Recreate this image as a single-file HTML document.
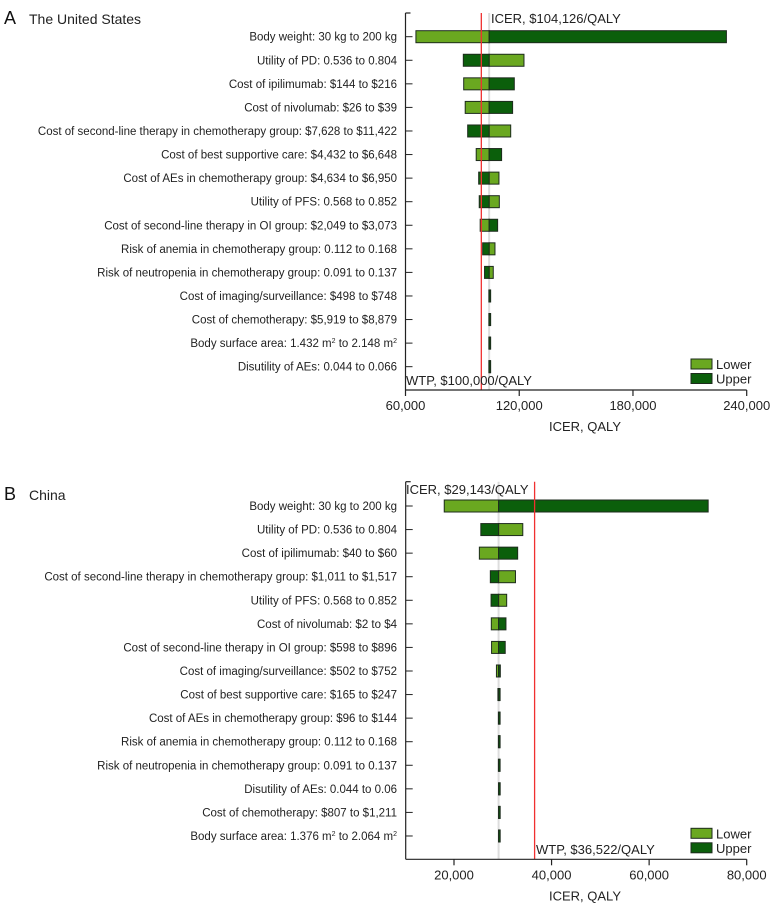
<!DOCTYPE html>
<html><head><meta charset="utf-8"><style>
html,body{margin:0;padding:0;background:#fff;}
svg{display:block;font-family:"Liberation Sans",Arial,sans-serif;}
</style></head><body>
<svg id="chart" width="776" height="911" viewBox="0 0 776 911" xmlns="http://www.w3.org/2000/svg"></svg>
<script>
// Panel A data (The United States)
const labelsA = ["Body weight: 30 kg to 200 kg","Utility of PD: 0.536 to 0.804","Cost of ipilimumab: $144 to $216","Cost of nivolumab: $26 to $39","Cost of second-line therapy in chemotherapy group: $7,628 to $11,422","Cost of best supportive care: $4,432 to $6,648","Cost of AEs in chemotherapy group: $4,634 to $6,950","Utility of PFS: 0.568 to 0.852","Cost of second-line therapy in OI group: $2,049 to $3,073","Risk of anemia in chemotherapy group: 0.112 to 0.168","Risk of neutropenia in chemotherapy group: 0.091 to 0.137","Cost of imaging/surveillance: $498 to $748","Cost of chemotherapy: $5,919 to $8,879","Body surface area: 1.432 m^2 to 2.148 m^2","Disutility of AEs: 0.044 to 0.066"];
const lowerA = [65500,122500,90700,91500,115500,97300,109300,109500,99400,107200,106300,104000,104000,104000,104000];
const upperA = [229300,90500,117400,116500,92800,110700,98600,98900,108600,100700,101700,104500,104300,104300,104300];
const baseA = 104126;
const wtpA = 100000;
const ticksA = [60000,120000,180000,240000];
const tickLabelsA = ["60,000","120,000","180,000","240,000"];

// Panel B data (China)
const labelsB = ["Body weight: 30 kg to 200 kg","Utility of PD: 0.536 to 0.804","Cost of ipilimumab: $40 to $60","Cost of second-line therapy in chemotherapy group: $1,011 to $1,517","Utility of PFS: 0.568 to 0.852","Cost of nivolumab: $2 to $4","Cost of second-line therapy in OI group: $598 to $896","Cost of imaging/surveillance: $502 to $752","Cost of best supportive care: $165 to $247","Cost of AEs in chemotherapy group: $96 to $144","Risk of anemia in chemotherapy group: 0.112 to 0.168","Risk of neutropenia in chemotherapy group: 0.091 to 0.137","Disutility of AEs: 0.044 to 0.06","Cost of chemotherapy: $807 to $1,211","Body surface area: 1.376 m^2 to 2.064 m^2"];
const lowerB = [18000,34100,25200,32600,30800,27650,27700,28700,29000,29100,29100,29100,29143,29143,29143];
const upperB = [72100,25500,33050,27450,27600,30650,30500,29500,29350,29250,29250,29250,29250,29250,29250];
const baseB = 29143;
const wtpB = 36522;
const ticksB = [20000,40000,60000,80000];
const tickLabelsB = ["20,000","40,000","60,000","80,000"];

const NS="http://www.w3.org/2000/svg";
const svg=document.getElementById('chart');
function mk(tag,attrs,parent){const e=document.createElementNS(NS,tag);for(const k in attrs)e.setAttribute(k,attrs[k]);(parent||svg).appendChild(e);return e;}

function panel(o){
  const g=mk('g',{});
  
  
  const x=v=>o.x0+(v-o.d0)*(o.x1-o.x0)/(o.d1-o.d0);
  const rowY=i=>o.row0+i*23.57;
  const tl=mk('text',{x:4,y:o.titleY,'font-size':18,fill:'#111'},g);tl.textContent=o.letter;
  
  const tt=mk('text',{x:29,y:o.titleY,'font-size':14,fill:'#222'},g);tt.textContent=o.title;
  
  mk('line',{x1:x(o.base),x2:x(o.base),y1:o.top,y2:o.bottom,stroke:'#ddd','stroke-width':2},g);
  o.labels.forEach((lab,i)=>{
    const y=rowY(i);
    const t=mk('text',{x:397,y:y+4,'font-size':11.5,'text-anchor':'end',fill:'#222'},g);
    
    const parts=lab.split('^2');
    parts.forEach((p,k)=>{
      const s=mk('tspan',{},t);
      if(k>0) s.setAttribute('dy',4);
      s.textContent=p;
      if(k<parts.length-1){const sup=mk('tspan',{'font-size':7,dy:-4},t);sup.textContent='2';}
    });
    [[o.lower[i],'#6aa820','lower'],[o.upper[i],'#0b5f0b','upper']].forEach(([v,c,n])=>{
      const a=Math.min(x(v),x(o.base)),b=Math.max(x(v),x(o.base));
      const r=mk('rect',{x:a,y:y-6,width:Math.max(b-a,1.5),height:12,fill:c,stroke:'#1d2b1d','stroke-width':1},g);
      
    });
    mk('line',{x1:o.x0,x2:o.x0+7,y1:y,y2:y,stroke:'#222','stroke-width':1},g);
  });
  const w=mk('line',{x1:x(o.wtp),x2:x(o.wtp),y1:o.top,y2:o.bottom,stroke:'#f03030','stroke-width':1.3},g);
  
  mk('line',{x1:o.x0,x2:o.x0,y1:o.top,y2:o.bottom,stroke:'#222','stroke-width':1.2},g);
  mk('line',{x1:o.x0,x2:o.x0+5,y1:o.top,y2:o.top,stroke:'#222','stroke-width':1.2},g);
  mk('line',{x1:o.x0,x2:o.x1,y1:o.bottom,y2:o.bottom,stroke:'#222','stroke-width':1.2},g);
  o.ticks.forEach((v,i)=>{
    mk('line',{x1:x(v),x2:x(v),y1:o.bottom,y2:o.bottom+6,stroke:'#222','stroke-width':1.2},g);
    const t=mk('text',{x:x(v),y:o.bottom+20,'font-size':13,'text-anchor':'middle',fill:'#222'},g);t.textContent=o.tickLabels[i];
    
  });
  const xt=mk('text',{x:585,y:o.bottom+41,'font-size':13,'text-anchor':'middle',fill:'#222'},g);xt.textContent='ICER, QALY';
  
  const it=mk('text',{x:o.icerX,y:o.icerY,'font-size':13,fill:'#222'},g);it.textContent=o.icerText;
  
  const wt=mk('text',{x:o.wtpX,y:o.wtpY,'font-size':13,fill:'#222'},g);wt.textContent=o.wtpText;
  
  const ly=o.bottom-31;
  [['Lower','#6aa820'],['Upper','#0b5f0b']].forEach(([n,c],k)=>{
    const r=mk('rect',{x:691,y:ly+k*14.5,width:21,height:10,fill:c,stroke:'#1d2b1d','stroke-width':1},g);
    
    const t=mk('text',{x:716,y:ly+k*14.5+10,'font-size':13,fill:'#222'},g);t.textContent=n;
    
  });
}

panel({name:'panel-a-united-states',letter:'A',title:'The United States',titleY:24,labels:labelsA,lower:lowerA,upper:upperA,base:baseA,wtp:wtpA,ticks:ticksA,tickLabels:tickLabelsA,
  x0:405.5,x1:746.7,d0:60000,d1:240000,top:13,bottom:390,row0:36.7,
  icerText:'ICER, $104,126/QALY',icerX:491,icerY:23,wtpText:'WTP, $100,000/QALY',wtpX:406,wtpY:385});
panel({name:'panel-b-china',letter:'B',title:'China',titleY:500,labels:labelsB,lower:lowerB,upper:upperB,base:baseB,wtp:wtpB,ticks:ticksB,tickLabels:tickLabelsB,
  x0:405.7,x1:746.7,d0:10100,d1:80000,top:481.7,bottom:859.3,row0:506,
  icerText:'ICER, $29,143/QALY',icerX:406,icerY:494,wtpText:'WTP, $36,522/QALY',wtpX:536,wtpY:854});
</script>
</body></html>
